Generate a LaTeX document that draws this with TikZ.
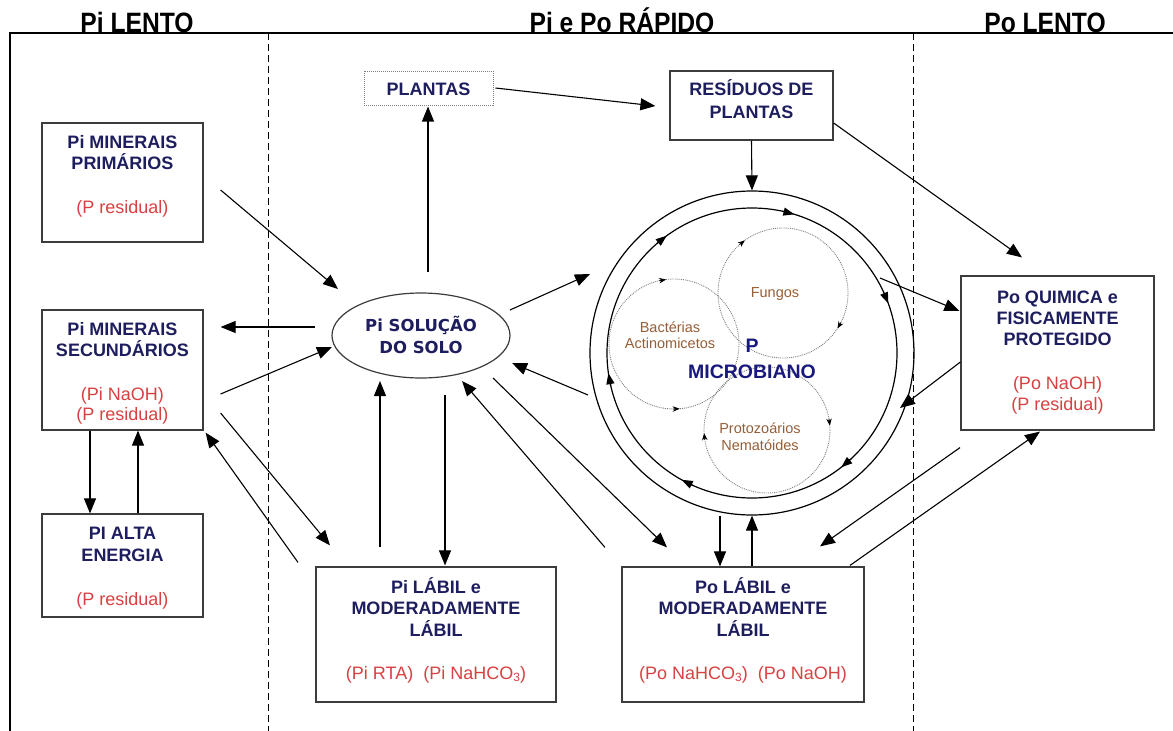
\documentclass[tikz,border=0pt]{standalone}
\usepackage{fontspec}
\setmainfont{Liberation Sans}
\newfontfamily\hfont[FakeStretch=0.88]{Liberation Sans}
\newfontfamily\dvfont{DejaVu Sans}
\usetikzlibrary{arrows.meta,shapes.geometric,calc}
\definecolor{navy}{RGB}{30,30,95}
\definecolor{mblue}{RGB}{25,25,125}
\definecolor{pred}{RGB}{215,65,65}
\definecolor{brownt}{RGB}{150,95,55}
\definecolor{boxgray}{RGB}{60,60,60}
\newcommand{\mysubs}[1]{\raisebox{-2.5pt}{\fontsize{12}{12}\selectfont #1}}
% arrow tip on a circle: centre x, centre y, radius, from angle, to angle (visual angles)
\newcommand{\smallarr}[5]{\draw[smarr] ($(#1,#2)+({#3*cos(#4)},{-#3*sin(#4)})$) -- ($(#1,#2)+({#3*cos(#5)},{-#3*sin(#5)})$);}
\begin{document}
\begin{tikzpicture}[x=1pt,y=-1pt,
  box/.style={draw=boxgray,line width=1.2pt,rectangle,inner sep=0pt},
  ttl/.style={anchor=base,text=navy,font=\fontsize{18}{21}\selectfont\bfseries,inner sep=0pt},
  rtx/.style={anchor=base,text=pred,font=\fontsize{18}{21}\selectfont,inner sep=0pt},
  soltx/.style={anchor=base,text=navy,font=\dvfont\bfseries\fontsize{16.5}{20}\selectfont,inner sep=0pt},
  mictx/.style={anchor=base,text=mblue,font=\fontsize{19.5}{22}\selectfont\bfseries,inner sep=0pt},
  smtx/.style={anchor=base,text=brownt,font=\fontsize{14.5}{16}\selectfont,inner sep=0pt},
  hdr/.style={anchor=base,font=\hfont\bfseries\fontsize{28}{30}\selectfont,inner sep=0pt},
  arr/.style={line width=1.1pt,-{Triangle[length=15pt,width=12pt]}},
  smarr/.style={line width=0.8pt,-{Stealth[length=7pt,width=5.5pt]}},
  bigarr/.style={line width=1.2pt,-{Triangle[length=11pt,width=8pt]}},
  dotc/.style={draw=gray,densely dotted,line width=0.9pt},
]
\fill[white] (0,0) rectangle (1173,731);
\useasboundingbox (0,0) rectangle (1173,731);

% frame and separators
\draw[line width=1.4pt] (10,731) -- (10,33) -- (1173,33);
\draw[line width=1pt,dash pattern=on 7pt off 4pt] (268,33) -- (268,731);
\draw[line width=1pt,dash pattern=on 7pt off 4pt] (913,33) -- (913,731);

% headers
\node[hdr] (h1) at (137,32) {Pi LENTO};
\node[hdr] (h2) at (622,32) {Pi e Po RÁPIDO};
\node[hdr] (h3) at (1045,32) {Po LENTO};

% boxes
\node[box,minimum width=161pt,minimum height=119pt] (prim) at (122.5,182.5) {};
\node[box,minimum width=161pt,minimum height=120pt] (sec) at (122.5,370) {};
\node[box,minimum width=161pt,minimum height=103pt] (alta) at (122.5,565.5) {};
\node[draw=gray,densely dotted,line width=1pt,minimum width=129pt,minimum height=34pt,inner sep=0pt] (plantas) at (428.5,88) {};
\node[box,minimum width=163pt,minimum height=69pt] (resid) at (751.5,105.5) {};
\node[draw=boxgray,line width=1.2pt,ellipse,minimum width=178pt,minimum height=85pt,inner sep=0pt] (sol) at (421,335.5) {};
\node[box,minimum width=193pt,minimum height=154pt] (poq) at (1057.5,353) {};
\node[box,minimum width=240pt,minimum height=135pt] (pil) at (436,634.5) {};
\node[box,minimum width=242pt,minimum height=135pt] (pol) at (743,634.5) {};

% microbial circles
\coordinate (mc) at (752,353);
\node[circle,draw,line width=1.2pt,minimum size=324pt,inner sep=0pt] (outer) at (mc) {};
\draw[line width=1.2pt] (mc) circle [radius=145];
\begin{scope}[smarr/.style={bigarr}]
\smallarr{752}{353}{145}{-47}{-52}
\smallarr{752}{353}{145}{-114}{-119}
\smallarr{752}{353}{145}{193}{188}
\smallarr{752}{353}{145}{131}{126}
\smallarr{752}{353}{145}{78}{73}
\smallarr{752}{353}{145}{25}{20}
\end{scope}

\draw[dotc] (674,344) circle [radius=65];
\draw[dotc] (783,293) circle [radius=65];
\draw[dotc] (767,430) circle [radius=63];
\smallarr{674}{344}{65}{103}{97}
\smallarr{674}{344}{65}{-91}{-85}
\smallarr{783}{293}{65}{132}{126}
\smallarr{783}{293}{65}{-27}{-33}
\smallarr{767}{430}{63}{10}{4}
\smallarr{767}{430}{63}{189}{183}

% texts
\node[ttl] (t1) at (122.5,148) {Pi MINERAIS};
\node[ttl] (t2) at (122.5,169) {PRIMÁRIOS};
\node[rtx] (t3) at (122.5,213) {(P residual)};
\node[ttl] (t4) at (122.5,335) {Pi MINERAIS};
\node[ttl] (t5) at (122.5,356) {SECUNDÁRIOS};
\node[rtx] (t6) at (122.5,400) {(Pi NaOH)};
\node[rtx] (t7) at (122.5,420) {(P residual)};
\node[ttl] (t8) at (122.5,539) {PI ALTA};
\node[ttl] (t9) at (122.5,561) {ENERGIA};
\node[rtx] (t10) at (122.5,605) {(P residual)};
\node[ttl] (t11) at (428.5,95) {PLANTAS};
\node[ttl] (t12) at (751.5,95) {RESÍDUOS DE};
\node[ttl] (t13) at (751.5,118) {PLANTAS};
\node[soltx] (t14) at (421,331) {Pi SOLUÇÃO};
\node[soltx] (t15) at (421,353) {DO SOLO};
\node[mictx] (t16) at (752,352) {P};
\node[mictx] (t17) at (752,378) {MICROBIANO};
\node[smtx] (t18) at (775,297) {Fungos};
\node[smtx] (t19) at (670,332) {Bactérias};
\node[smtx] (t20) at (670,348) {Actinomicetos};
\node[smtx] (t21) at (760,433) {Protozoários};
\node[smtx] (t22) at (760,450) {Nematóides};
\node[ttl] (t23) at (1057.5,303) {Po QUIMICA e};
\node[ttl] (t24) at (1057.5,324) {FISICAMENTE};
\node[ttl] (t25) at (1057.5,345) {PROTEGIDO};
\node[rtx] (t26) at (1057.5,389) {(Po NaOH)};
\node[rtx] (t27) at (1057.5,410) {(P residual)};
\node[ttl] (t28) at (436,593) {Pi LÁBIL e};
\node[ttl] (t29) at (436,614) {MODERADAMENTE};
\node[ttl] (t30) at (436,636) {LÁBIL};
\node[rtx] (t31) at (436,679) {(Pi RTA)\hspace{10pt}(Pi NaHCO\mysubs{3})};
\node[ttl] (t32) at (743,593) {Po LÁBIL e};
\node[ttl] (t33) at (743,614) {MODERADAMENTE};
\node[ttl] (t34) at (743,636) {LÁBIL};
\node[rtx] (t35) at (743,679) {(Po NaHCO\mysubs{3})\hspace{10pt}(Po NaOH)};

% connectors
\draw[arr] ([shift={(17,7.5)}]prim.east) -- ([shift={(-83,-46.5)}]sol.center);
\draw[arr] ([shift={(-106,-8.5)}]sol.center) -- ([shift={(17,-43)}]sec.east);
\draw[arr] ([shift={(17,24)}]sec.east) -- ([shift={(-89,11.5)}]sol.center);
\draw[arr] ([shift={(17,43)}]sec.east) -- ([shift={(-106,-21)}]pil.north);
\draw[arr] ([shift={(-138,-4)}]pil.north) -- ([shift={(2,2)}]sec.south east);
\draw[arr] ([shift={(7,-63.5)}]sol.center) -- ([shift={(-0.5,1)}]plantas.south);
\draw[arr] ([shift={(2,0)}]plantas.east) -- ([shift={(-14,0.5)}]resid.west);
\draw[arr] (resid.south) -- (outer.north);
\draw[arr] ([shift={(0,17.5)}]resid.east) -- ([shift={(-35.5,-18)}]poq.north);
\draw[arr] ([shift={(89,-25.5)}]sol.center) -- ([shift={(-162,-79)}]mc);
\draw[arr] ([shift={(-164,42)}]mc) -- ([shift={(91,27.5)}]sol.center);
\draw[arr] ([shift={(72,42.5)}]sol.center) -- ([shift={(-76,-19)}]pol.north);
\draw[arr] ([shift={(-138,-19)}]pol.north) -- ([shift={(41,45.5)}]sol.center);
\draw[arr] ([shift={(-56,-19)}]pil.north) -- ([shift={(-41,45.5)}]sol.center);
\draw[arr] ([shift={(24,59.5)}]sol.center) -- ([shift={(9,-1)}]pil.north);
\draw[arr] ([shift={(-32.5,0)}]sec.south) -- ([shift={(-32.5,0)}]alta.north);
\draw[arr] ([shift={(15.5,0)}]alta.north) -- ([shift={(15.5,0)}]sec.south);
\draw[arr] ([shift={(-32,0)}]outer.south) -- ([shift={(-23,0)}]pol.north);
\draw[arr] ([shift={(9,0)}]pol.north) -- (outer.south);
\draw[arr] ([shift={(128,-75)}]mc) -- ([shift={(-1,-42)}]poq.west);
\draw[arr] ([shift={(0,9)}]poq.west) -- ([shift={(148,55)}]mc);
\draw[arr] ([shift={(-97.5,17)}]poq.south) -- ([shift={(77,-20)}]pol.north);
\draw[arr] ([shift={(107,-1)}]pol.north) -- ([shift={(-17.5,1)}]poq.south);
\end{tikzpicture}
\end{document}
